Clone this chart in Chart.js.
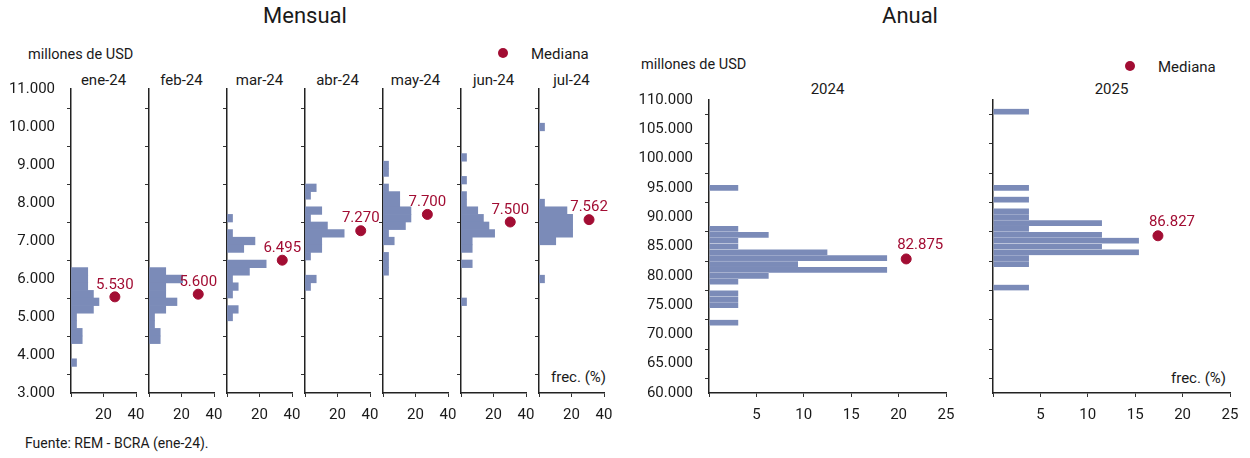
<!DOCTYPE html>
<html lang="es">
<head>
<meta charset="utf-8">
<title>REM - Reservas internacionales</title>
<script src="https://cdn.jsdelivr.net/npm/chart.js@4.4.1/dist/chart.umd.min.js"></script>
<style>
  body { margin: 0; width: 1250px; height: 458px; background: #fff; position: relative; overflow: hidden;
         font-family: Roboto, "Noto Sans", sans-serif; color: #1a1a1a; }
  canvas { position: absolute; }
  .t { position: absolute; white-space: nowrap; line-height: 1; transform: translateY(-50%); }
  .c { transform: translate(-50%, -50%); }
  .dot { position: absolute; width: 10px; height: 10px; border-radius: 50%; background: #a20d33; transform: translate(-50%, -50%); }
</style>
</head>
<body>
<div class="t c" style="left:305px; top:16px; font-size:22px;">Mensual</div>
<div class="t c" style="left:910px; top:16px; font-size:22px;">Anual</div>
<div class="t" style="left:28px; top:55px; font-size:14.5px;">millones de USD</div>
<div class="t" style="left:641px; top:65px; font-size:14.5px;">millones de USD</div>
<div class="dot" style="left:503px; top:53px;"></div>
<div class="t" style="left:531px; top:54px; font-size:15px;">Mediana</div>
<div class="dot" style="left:1130px; top:66px;"></div>
<div class="t" style="left:1158px; top:67px; font-size:15px;">Mediana</div>
<div class="t" style="left:551px; top:377px; font-size:15px;">frec. (%)</div>
<div class="t" style="left:1171px; top:378px; font-size:15px;">frec. (%)</div>
<div class="t" style="left:25px; top:443px; font-size:14px;">Fuente: REM - BCRA (ene-24).</div>
<div id="labels"></div>

<script>
// categories
const months = ["ene-24", "feb-24", "mar-24", "abr-24", "may-24", "jun-24", "jul-24"];
const years = ["2024", "2025"];

// monthly histograms: bin centre (millones de USD) and frequency (%)
const binsEne = [6200, 6000, 5800, 5600, 5400, 5200, 5000, 4800, 4600, 4400, 3800];
const freqEne = [10.3, 10.3, 10.3, 13.8, 17.2, 13.8, 3.4, 3.4, 6.9, 6.9, 3.4];
const binsFeb = [6200, 6000, 5800, 5600, 5400, 5200, 5000, 4800, 4600, 4400];
const freqFeb = [10.3, 20.7, 10.3, 10.3, 17.2, 10.3, 3.4, 3.4, 6.9, 6.9];
const binsMar = [7600, 7200, 7000, 6800, 6400, 6200, 6000, 5800, 5600, 5200, 5000];
const freqMar = [3.4, 3.4, 17.2, 10.3, 24.1, 13.8, 3.4, 6.9, 3.4, 6.9, 3.4];
const binsAbr = [8400, 8200, 7800, 7600, 7400, 7200, 7000, 6800, 6600, 6000, 5800];
const freqAbr = [6.9, 3.4, 10.3, 3.4, 13.8, 24.1, 10.3, 10.3, 3.4, 6.9, 3.4];
const binsMay = [9000, 8800, 8400, 8200, 8000, 7800, 7600, 7400, 7200, 7000, 6600, 6400, 6200];
const freqMay = [3.4, 3.4, 3.4, 10.3, 10.3, 17.2, 17.2, 13.8, 3.4, 6.9, 3.4, 3.4, 3.4];
const binsJun = [9200, 8600, 8200, 8000, 7800, 7600, 7400, 7200, 7000, 6800, 6400, 5400];
const freqJun = [3.4, 3.4, 3.4, 3.4, 10.3, 13.8, 17.2, 20.7, 6.9, 6.9, 6.9, 3.4];
const binsJul = [10000, 8000, 7800, 7600, 7400, 7200, 7000, 6000];
const freqJul = [3.4, 3.4, 17.2, 20.7, 20.7, 20.7, 10.3, 3.4];

const monthMedian = [5530, 5600, 6495, 7270, 7700, 7500, 7562];
const monthMedianX = [27, 30.3, 34, 34.3, 27.3, 30.3, 30.8];

// annual histograms
const bins2024 = [95000, 88000, 87000, 86000, 85000, 84000, 83000, 82000, 81000, 80000, 79000, 77000, 76000, 75000, 72000];
const freq2024 = [3.1, 3.1, 6.3, 3.1, 3.1, 12.5, 18.8, 9.4, 18.8, 6.3, 3.1, 3.1, 3.1, 3.1, 3.1];
const bins2025 = [108000, 95000, 93000, 91000, 90000, 89000, 88000, 87000, 86000, 85000, 84000, 83000, 82000, 78000];
const freq2025 = [3.8, 3.8, 3.8, 3.8, 3.8, 11.5, 3.8, 11.5, 15.4, 11.5, 15.4, 3.8, 3.8, 3.8];

const yearMedian = [82875, 86827];
const yearMedianX = [20.8, 17.4];

// tick labels
const monthYTicks = [3000, 4000, 5000, 6000, 7000, 8000, 9000, 10000, 11000];
const monthXTicks = [0, 20, 40];
const yearYTicks = [60000, 65000, 70000, 75000, 80000, 85000, 90000, 95000, 100000, 105000, 110000];
const yearXTicks = [0, 5, 10, 15, 20, 25];

const monthBins = [binsEne, binsFeb, binsMar, binsAbr, binsMay, binsJun, binsJul];
const monthFreq = [freqEne, freqFeb, freqMar, freqAbr, freqMay, freqJun, freqJul];
const yearBins = [bins2024, bins2025];
const yearFreq = [freq2024, freq2025];

const BAR = "#7b8bb8";
const MED = "#a20d33";
const INK = "#1a1a1a";

Chart.defaults.font.family = "Roboto, 'Noto Sans', sans-serif";
Chart.defaults.font.size = 15;
Chart.defaults.color = INK;

function fmt(v) {
  return String(v).replace(/\B(?=(\d{3})+(?!\d))/g, ".");
}

// value label next to the median point
const medianLabel = {
  id: "medianLabel",
  afterDatasetsDraw(chart, args, opts) {
    const pt = chart.getDatasetMeta(1).data[0];
    const v = chart.data.datasets[1].data[0].y;
    const c = chart.ctx;
    c.save();
    c.font = "15px Roboto, 'Noto Sans', sans-serif";
    c.fillStyle = MED;
    c.textAlign = "center";
    c.textBaseline = "middle";
    c.fillText(fmt(v), pt.x + opts.dx, pt.y - opts.dy);
    c.restore();
  }
};

// layout padding is kept larger than the axes' own label overflow,
// so the plot area sits at canvas top + PT and canvas right - PR
const PT = 24;
const PR = 20;

function panel(box, bins, freq, median, medX, yTicks, xTicks, showY, lab, border) {
  const cv = document.createElement("canvas");
  cv.width = box.w;
  cv.height = box.h;
  cv.style.left = box.left + "px";
  cv.style.top = box.top + "px";
  document.body.appendChild(cv);

  return new Chart(cv.getContext("2d"), {
    type: "bar",
    data: {
      datasets: [
        {
          type: "bar",
          data: bins.map((b, i) => ({ x: freq[i], y: b })),
          backgroundColor: BAR,
          borderColor: "rgba(255,255,255,0.4)",
          borderWidth: border,
          barPercentage: 1,
          categoryPercentage: 1,
          order: 2
        },
        {
          type: "scatter",
          data: [{ x: medX, y: median }],
          backgroundColor: MED,
          borderColor: MED,
          pointRadius: 5,
          pointHoverRadius: 5,
          order: 1
        }
      ]
    },
    options: {
      indexAxis: "y",
      responsive: false,
      animation: false,
      events: [],
      layout: { padding: { top: PT, right: PR, bottom: 0, left: 0 } },
      plugins: {
        legend: { display: false },
        tooltip: { enabled: false },
        medianLabel: lab
      },
      scales: {
        x: {
          type: "linear",
          min: xTicks[0],
          max: xTicks[xTicks.length - 1],
          afterBuildTicks: (s) => { s.ticks = xTicks.map((v) => ({ value: v })); },
          ticks: { callback: (v) => (v === 0 ? "" : v), padding: 9, maxRotation: 0, color: INK },
          grid: { drawOnChartArea: false, tickLength: 4, color: "#333" },
          border: { color: "#222", width: 1.5 },
          afterFit: (s) => { s.height = 40; }
        },
        y: {
          type: "linear",
          offset: false,
          min: yTicks[0],
          max: yTicks[yTicks.length - 1],
          afterBuildTicks: (s) => { s.ticks = yTicks.map((v) => ({ value: v })); },
          ticks: { callback: (v) => (showY ? fmt(v) : ""), padding: 12, color: INK },
          grid: { drawOnChartArea: false, tickLength: 4, color: "#333" },
          border: { color: "#222", width: 1.5 },
          afterFit: (s) => { s.width = 71; }
        }
      }
    },
    plugins: [medianLabel]
  });
}

const labels = document.getElementById("labels");
function addText(txt, x, y) {
  const d = document.createElement("div");
  d.className = "t c";
  d.style.left = x + "px";
  d.style.top = y + "px";
  d.style.fontSize = "15px";
  d.textContent = txt;
  labels.appendChild(d);
}

// monthly panels: axis at 71 + 78*k, plot 65 px wide, 89..393 high
months.forEach((m, k) => {
  const ax = 71 + 78 * k;
  panel({ left: ax - 71, top: 89 - PT, w: 71 + 65 + PR, h: PT + 304 + 40 },
        monthBins[k], monthFreq[k], monthMedian[k], monthMedianX[k],
        monthYTicks, monthXTicks, k === 0, { dx: 0, dy: 12 }, 0);
  addText(m, ax + 32.5, 80);
});

// annual panels: plot 237 px wide, 100..393 high
years.forEach((y, k) => {
  const ax = k === 0 ? 709 : 993;
  panel({ left: ax - 71, top: 100 - PT, w: 71 + 237 + PR, h: PT + 293 + 40 },
        yearBins[k], yearFreq[k], yearMedian[k], yearMedianX[k],
        yearYTicks, yearXTicks, k === 0, { dx: 14, dy: 14 }, 0.4);
  addText(y, ax + 118.5, 89);
});
</script>
</body>
</html>
